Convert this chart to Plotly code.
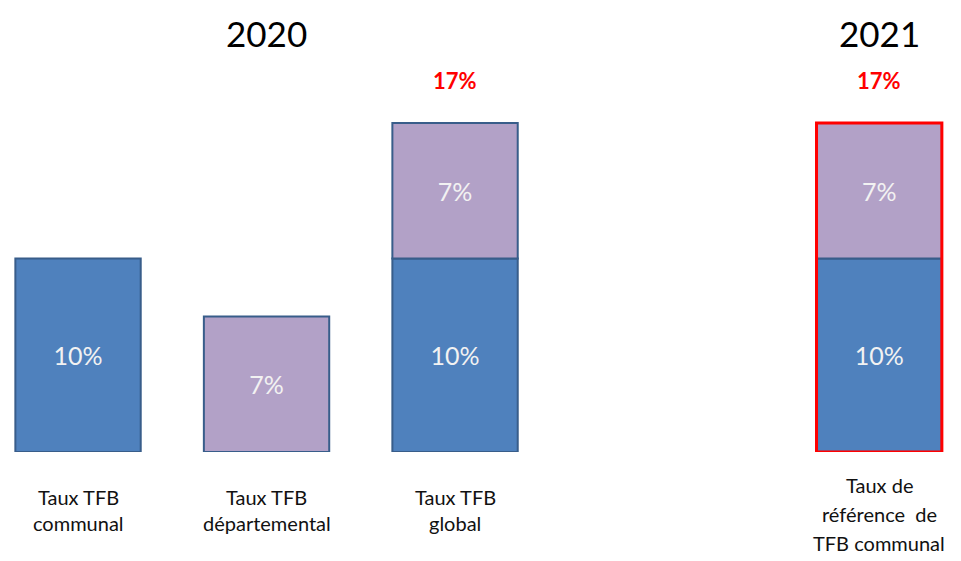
import plotly.graph_objects as go

# Categories and values (in %)
categories = [["Taux TFB", "communal"], ["Taux TFB", "départemental"], ["Taux TFB", "global"],
              ["Taux de", "référence  de", "TFB communal"]]
x_pos = [0, 1, 2, 4.25]
communal = [10, 0, 10, 10]
departemental = [0, 7, 7, 7]
years = ["2020", "2021"]
year_x = [1, 4.25]

BLUE = "#4f81bd"
PURPLE = "#b2a1c7"
EDGE = "#385d8a"
RED = "#ff0000"
WIDTH = 0.665
FONT = "Lato"

totals = [c + d for c, d in zip(communal, departemental)]

fig = go.Figure()

# communal part (bottom)
cx = [x for x, v in zip(x_pos, communal) if v]
cy = [v for v in communal if v]
fig.add_trace(go.Bar(
    x=cx, y=cy, base=[0] * len(cy), width=WIDTH,
    marker=dict(color=BLUE, line=dict(color=EDGE, width=2)),
    text=[f"{v}%" for v in cy], textposition="inside", insidetextanchor="middle",
    textfont=dict(color="#f2f2f2", size=25, family=FONT),
    constraintext="none", hoverinfo="skip",
))

# departmental part (stacked on top of communal)
dx = [x for x, v in zip(x_pos, departemental) if v]
dy = [v for v in departemental if v]
db = [c for c, v in zip(communal, departemental) if v]
fig.add_trace(go.Bar(
    x=dx, y=dy, base=db, width=WIDTH,
    marker=dict(color=PURPLE, line=dict(color=EDGE, width=2)),
    text=[f"{v}%" for v in dy], textposition="inside", insidetextanchor="middle",
    textfont=dict(color="#f2f2f2", size=25, family=FONT),
    constraintext="none", hoverinfo="skip",
))

# red outline around the 2021 reference rate
fig.add_trace(go.Bar(
    x=[x_pos[-1]], y=[totals[-1]], base=[0], width=WIDTH,
    marker=dict(color="rgba(0,0,0,0)", line=dict(color=RED, width=3)),
    hoverinfo="skip",
))

# totals above the stacked bars
for x, c, d in zip(x_pos, communal, departemental):
    if c and d:
        fig.add_annotation(x=x, y=c + d, text=f"<b>{c + d}%</b>", showarrow=False,
                           yanchor="middle", yshift=43,
                           font=dict(color=RED, size=22, family=FONT))

# category labels below the bars, one annotation per line
for x, lines in zip(x_pos, categories):
    first, step = (45, 26) if len(lines) == 2 else (33, 29)
    for i, line in enumerate(lines):
        fig.add_annotation(x=x, y=0, text=line, showarrow=False, yanchor="middle",
                           yshift=-(first + i * step),
                           font=dict(color="#111111", size=20, family=FONT))

# year headings
for x, yr in zip(year_x, years):
    fig.add_annotation(x=x, y=1, yref="paper", yanchor="middle", text=yr,
                       showarrow=False, yshift=-33,
                       font=dict(color="#000000", size=35, family=FONT))

fig.update_layout(
    width=961, height=561,
    margin=dict(l=0, r=0, t=0, b=109),
    barmode="overlay", showlegend=False,
    plot_bgcolor="white", paper_bgcolor="white",
    xaxis=dict(range=[-0.414, 4.684], visible=False, fixedrange=True),
    yaxis=dict(range=[0, 23.36], visible=False, fixedrange=True),
)

fig.write_html("out.html", config={"displayModeBar": False})
